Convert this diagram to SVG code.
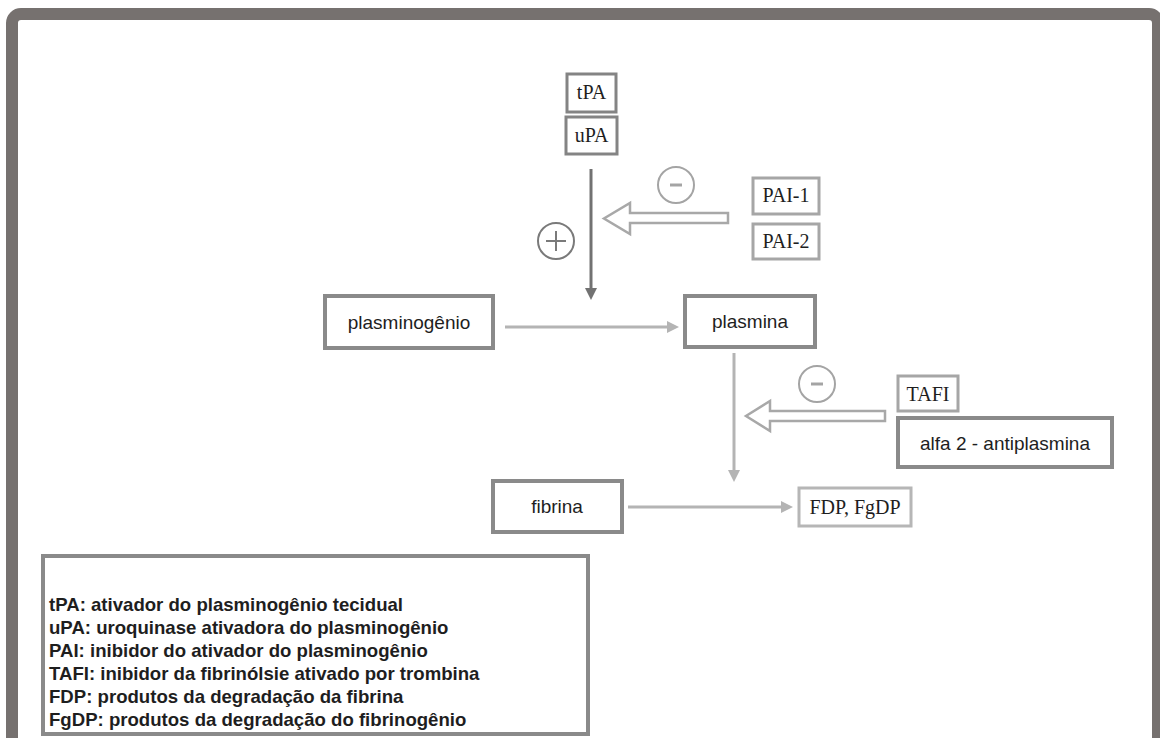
<svg xmlns="http://www.w3.org/2000/svg" width="1160" height="738" viewBox="0 0 1160 738">
<style>
.box{fill:#fff;stroke:#8a8a8a;stroke-width:4}
.sbox{fill:#fff;stroke:#848484;stroke-width:3}
.lbox{fill:#fff;stroke:#a6a6a6;stroke-width:3}
.xbox{fill:#fff;stroke:#b6b6b6;stroke-width:3}
.sans{font-family:"Liberation Sans",Arial,sans-serif;font-size:19px;fill:#1e1e1e;text-anchor:middle}
.serif{font-family:"Liberation Serif","Times New Roman",serif;font-size:20px;fill:#1e1e1e;text-anchor:middle}
.leg{font-family:"Liberation Sans",Arial,sans-serif;font-size:18.6px;font-weight:bold;fill:#1e1e1e}
.dark{stroke:#727272;stroke-width:3;fill:none}
.light{stroke:#b4b4b4;stroke-width:3;fill:none}
.dhead{fill:#727272}
.lhead{fill:#b4b4b4}
.hollow{fill:#fff;stroke:#a8a8a8;stroke-width:2.5;stroke-linejoin:miter}
.sign{fill:none;stroke-width:2}
</style>
<rect x="0" y="0" width="1160" height="738" fill="#fff"/>
<rect id="frame" x="12" y="14" width="1146" height="780" rx="9" fill="none" stroke="#76716f" stroke-width="12"/>

<g id="connectors">
  <line class="dark" x1="591" y1="169" x2="591" y2="289"/>
  <polygon class="dhead" points="585,288 597,288 591,300"/>
  <line class="light" x1="505" y1="327" x2="668" y2="327"/>
  <polygon class="lhead" points="667,321 667,333 679,327"/>
  <line class="light" x1="734" y1="353" x2="734" y2="471"/>
  <polygon class="lhead" points="728,470 740,470 734,482"/>
  <line class="light" x1="628" y1="507" x2="782" y2="507"/>
  <polygon class="lhead" points="781,501 781,513 793,507"/>
  <polygon class="hollow" points="728,213 630,213 630,203 604,218.5 630,234 630,223 728,223"/>
  <polygon class="hollow" points="885,411 770,411 770,401 746,416 770,431 770,421 885,421"/>
</g>

<g id="sign-plus">
  <circle class="sign" cx="556" cy="241" r="18" stroke="#7a7a7a"/>
  <line class="sign" x1="546" y1="241" x2="566" y2="241" stroke="#7a7a7a"/>
  <line class="sign" x1="556" y1="231" x2="556" y2="251" stroke="#7a7a7a"/>
</g>
<g id="sign-minus-1">
  <circle class="sign" cx="676" cy="185" r="18" stroke="#a4a4a4"/>
  <line x1="670" y1="185" x2="682" y2="185" stroke="#a4a4a4" stroke-width="3"/>
</g>
<g id="sign-minus-2">
  <circle class="sign" cx="817" cy="384" r="18" stroke="#a4a4a4"/>
  <line x1="811" y1="384" x2="823" y2="384" stroke="#a4a4a4" stroke-width="3"/>
</g>

<g id="node-tpa">
  <rect class="sbox" x="567" y="74" width="49" height="38"/>
  <text class="serif" x="591.5" y="99">tPA</text>
</g>
<g id="node-upa">
  <rect class="sbox" x="566" y="117" width="51" height="37"/>
  <text class="serif" x="591.5" y="142">uPA</text>
</g>
<g id="node-pai1">
  <rect class="lbox" x="753" y="178" width="66" height="36"/>
  <text class="serif" x="786" y="202">PAI-1</text>
</g>
<g id="node-pai2">
  <rect class="lbox" x="753" y="224" width="66" height="35"/>
  <text class="serif" x="786" y="248">PAI-2</text>
</g>
<g id="node-plasminogenio">
  <rect class="box" x="325" y="296" width="168" height="52"/>
  <text class="sans" x="409" y="329">plasminogênio</text>
</g>
<g id="node-plasmina">
  <rect class="box" x="685" y="296" width="130" height="51"/>
  <text class="sans" x="750" y="328">plasmina</text>
</g>
<g id="node-tafi">
  <rect class="lbox" x="898" y="376" width="60" height="35"/>
  <text class="serif" x="928" y="401">TAFI</text>
</g>
<g id="node-alfa2">
  <rect class="box" x="898" y="418" width="214" height="49"/>
  <text class="sans" x="1005" y="450">alfa 2 - antiplasmina</text>
</g>
<g id="node-fibrina">
  <rect class="box" x="493" y="481" width="129" height="51"/>
  <text class="sans" x="557" y="513">fibrina</text>
</g>
<g id="node-fdp">
  <rect class="xbox" x="799" y="488" width="112" height="38"/>
  <text class="serif" x="855" y="514">FDP, FgDP</text>
</g>
<g id="legend">
  <rect class="box" x="43" y="556" width="545" height="178"/>
  <text class="leg" x="49" y="611">tPA: ativador do plasminogênio tecidual</text>
  <text class="leg" x="49" y="634">uPA: uroquinase ativadora do plasminogênio</text>
  <text class="leg" x="49" y="657">PAI: inibidor do ativador do plasminogênio</text>
  <text class="leg" x="49" y="680">TAFI: inibidor da fibrinólsie ativado por trombina</text>
  <text class="leg" x="49" y="703">FDP: produtos da degradação da fibrina</text>
  <text class="leg" x="49" y="726">FgDP: produtos da degradação do fibrinogênio</text>
</g>
</svg>
